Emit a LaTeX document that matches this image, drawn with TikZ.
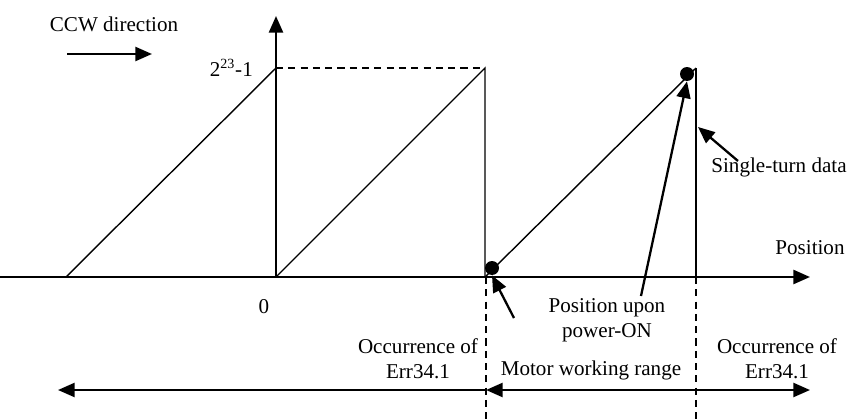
\documentclass[tikz,border=0pt]{standalone}
\usepackage{fontspec}
\setmainfont{Liberation Serif}
\usetikzlibrary{arrows.meta,positioning}

\begin{document}
\begin{tikzpicture}[x=0.02cm, y=-0.02cm, font=\fontsize{12}{14}\selectfont,
  tip/.style={-{Triangle[length=9.5pt,width=8pt]}},
  axis/.style={line width=1.4pt, tip},
  pointer/.style={line width=1.3pt, tip},
  ramp/.style={line width=0.8pt},
  guide/.style={line width=0.8pt, dash pattern=on 4pt off 3pt},
  dot/.style={circle, fill, inner sep=0pt, minimum size=0.28cm}]
\useasboundingbox (0,0) rectangle (849,419);
% ---- axes ------------------------------------------------------------------
\def\ybase{277}\def\ytop{68}
\draw[axis] (0,\ybase) -- (810,\ybase);
\draw[axis] (276,\ybase) -- (276,16);
\node (poslab) at (810,248) {Position};
\node (zero) at (264,307) {0};
\node[anchor=east] (maxlab) at (259,\ytop) {2\textsuperscript{23}-1};
\draw[guide] (276,\ytop) -- (485,\ytop);

% ---- single-turn sawtooth --------------------------------------------------
\draw[ramp] (66,\ybase) -- (276,\ytop);
\draw[ramp] (276,\ybase) -- (485,\ytop) -- (485,\ybase);
\draw[ramp] (485,\ybase) -- (696,\ytop);
\draw[ramp] (696,\ytop) -- (696,\ybase);
\node[dot] (lowdot) at (492,268) {};
\node[dot] (topdot) at (687,74) {};

% ---- direction -------------------------------------------------------------
\node (ccwlab) at (114,24) {CCW direction};
\coordinate (ccwa) at (67,54);
\coordinate (ccwb) at (152,54);
\draw[pointer] (ccwa) -- (ccwb);

% ---- callouts --------------------------------------------------------------
\node (stlab) at (779,167) {Single-turn data};
\coordinate (stfoot) at (738,161);
\coordinate (sttip) at (698,127);
\draw[pointer] (stfoot) -- (sttip);

\node[align=center] (pwlab) at (607,320) {Position upon\\power-ON};
\coordinate (pwfoot) at (641,296);
\draw[pointer] (pwfoot) -- (topdot.south);

\coordinate (lowfoot) at (514,318);
\draw[pointer] (lowfoot) -- (lowdot.south);

% ---- ranges ----------------------------------------------------------------
\def\yrange{390}
\coordinate (rl) at (486,\ybase);
\coordinate (rr) at (696,\ybase);
\draw[guide] (rl) -- (486,419);
\draw[guide] (rr) -- (696,419);
\coordinate (ra) at (486,\yrange);
\coordinate (rb) at (696,\yrange);
\coordinate (rleft) at (58,\yrange);
\coordinate (rright) at (810,\yrange);
\draw[pointer] (ra) -- (rleft);
\draw[pointer, {Triangle[length=9.5pt,width=8pt]}-] (ra) -- (rb);
\draw[pointer] (rb) -- (rright);
\node[align=center] (errleft) at (418,359) {Occurrence of\\Err34.1};
\node (worklab) at (591,370) {Motor working range};
\node[align=center] (errright) at (777,359) {Occurrence of\\Err34.1};
\end{tikzpicture}
\end{document}
